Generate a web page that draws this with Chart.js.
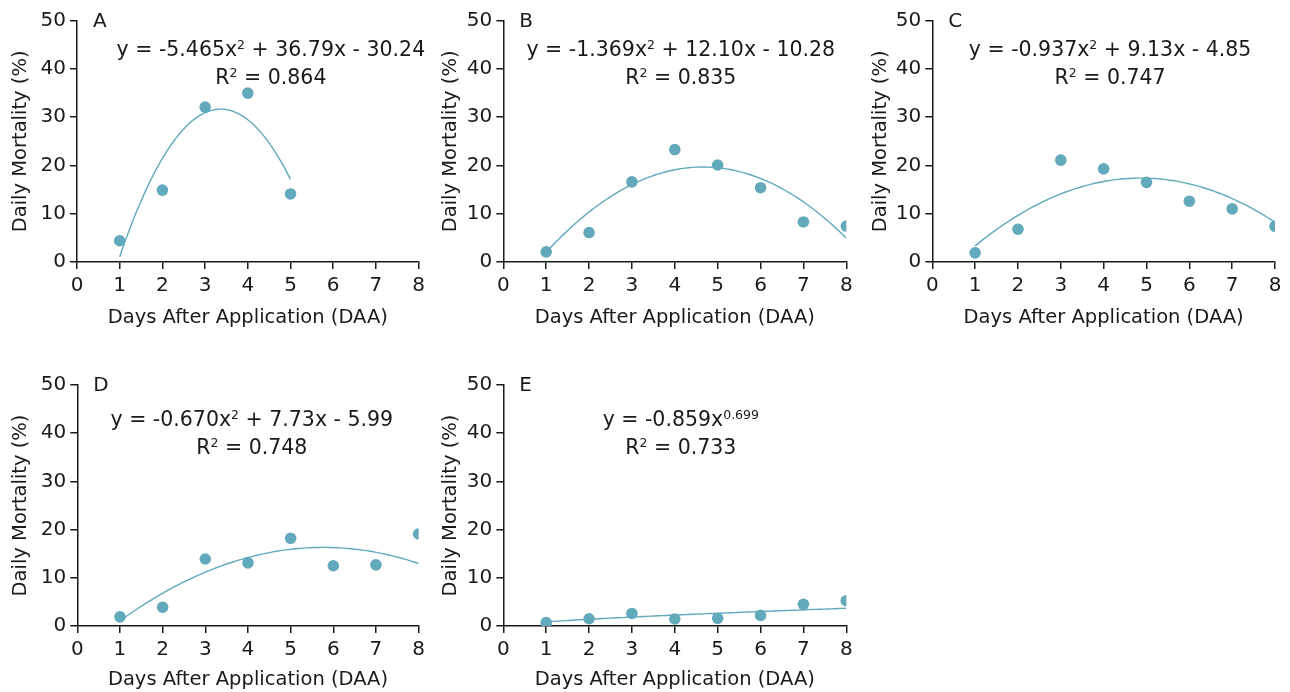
<!DOCTYPE html>
<html>
<head>
<meta charset="utf-8">
<script src="https://cdn.jsdelivr.net/npm/chart.js@4.4.0/dist/chart.umd.min.js"></script>
<style>
  body { margin: 0; background: #fff; width: 1290px; height: 692px; overflow: hidden; position: relative; }
  canvas { position: absolute; }
</style>
</head>
<body>
<canvas id="chartA"></canvas>
<canvas id="chartB"></canvas>
<canvas id="chartC"></canvas>
<canvas id="chartD"></canvas>
<canvas id="chartE"></canvas>
<script>
// Data
const daysA = [1, 2, 3, 4, 5];
const days = [1, 2, 3, 4, 5, 6, 7, 8];
const mortalityA = [4.4, 14.9, 32.1, 35.0, 14.1];
const mortalityB = [2.1, 6.1, 16.6, 23.3, 20.1, 15.4, 8.3, 7.45];
const mortalityC = [1.9, 6.8, 21.1, 19.3, 16.5, 12.6, 11.0, 7.4];
const mortalityD = [1.9, 3.9, 13.9, 13.1, 18.2, 12.5, 12.7, 19.1];
const mortalityE = [0.7, 1.5, 2.6, 1.45, 1.6, 2.2, 4.5, 5.25];

// trendline coefficients [x^2, x, 1] as drawn (B's printed equation does not match its drawn curve)
const fitA = [-5.465, 36.79, -30.24];
const fitB = [-1.32, 12.30, -8.97];
const fitC = [-0.937, 9.13, -4.85];
const fitD = [-0.670, 7.73, -5.99];
// power trendline [a, b] for y = a * x^b
const fitE = [0.859, 0.699];

const xTicks = [0, 1, 2, 3, 4, 5, 6, 7, 8];
const yTicks = [0, 10, 20, 30, 40, 50];

// equation text: even parts normal, odd parts superscript
const equationA = ['y = -5.465x', '2', ' + 36.79x - 30.24'];
const equationB = ['y = -1.369x', '2', ' + 12.10x - 10.28'];
const equationC = ['y = -0.937x', '2', ' + 9.13x - 4.85'];
const equationD = ['y = -0.670x', '2', ' + 7.73x - 5.99'];
const equationE = ['y = -0.859x', '0.699'];
const rSquared = ['0.864', '0.835', '0.747', '0.748', '0.733'];
const panelLetters = ['A', 'B', 'C', 'D', 'E'];

const teal = '#62a9bc';
const ink = '#1a1a1a';
const fontFamily = '"DejaVu Sans", sans-serif';

function quadCurve(coef) {
    return x => coef[0] * x * x + coef[1] * x + coef[2];
}

function powerCurve(coef) {
    return x => coef[0] * Math.pow(x, coef[1]);
}

// trendline drawn over the span of the measured days
function trendPoints(xs, fn) {
    const pts = [];
    const x0 = xs[0], x1 = xs[xs.length - 1];
    for (let i = 0; i <= 80; i++) {
        const x = x0 + (x1 - x0) * i / 80;
        pts.push({ x: x, y: fn(x) });
    }
    return pts;
}

function drawRich(ctx, parts, cx, baseline) {
    const big = '20.5px ' + fontFamily, small = '12.5px ' + fontFamily;
    let total = 0;
    parts.forEach((p, i) => { ctx.font = i % 2 ? small : big; total += ctx.measureText(p).width; });
    let x = cx - total / 2;
    parts.forEach((p, i) => {
        ctx.font = i % 2 ? small : big;
        ctx.fillText(p, x, i % 2 ? baseline - 7 : baseline);
        x += ctx.measureText(p).width;
    });
}

const labelPlugin = {
    id: 'panelText',
    afterDraw(chart, args, opts) {
        const ctx = chart.ctx, area = chart.chartArea;
        ctx.save();
        ctx.fillStyle = ink;
        ctx.textAlign = 'left';
        ctx.textBaseline = 'middle';
        ctx.font = '20px ' + fontFamily;
        ctx.fillText(opts.letter, area.left + 16, area.top + 1);
        ctx.textBaseline = 'alphabetic';
        const cx = chart.scales.x.getPixelForValue(opts.textX);
        drawRich(ctx, opts.equation, cx, area.top + opts.eqOffset);
        drawRich(ctx, ['R', '2', ' = ' + opts.r2], cx, area.top + opts.eqOffset + 28.5);
        ctx.restore();
    }
};

function makeChart(id, layout, xs, ys, fitFn, letter, equation, r2) {
    const canvas = document.getElementById(id);
    canvas.width = layout.w;
    canvas.height = layout.h;
    canvas.style.left = layout.left + 'px';
    canvas.style.top = layout.top + 'px';
    const points = xs.map((x, i) => ({ x: x, y: ys[i] }));
    new Chart(canvas.getContext('2d'), {
        type: 'scatter',
        data: {
            datasets: [{
                data: points,
                backgroundColor: teal,
                borderColor: teal,
                pointRadius: 5.8,
                pointHoverRadius: 5.8,
                borderWidth: 0
            }, {
                data: trendPoints(xs, fitFn),
                showLine: true,
                borderColor: teal,
                borderWidth: 1.4,
                pointRadius: 0,
                tension: 0
            }]
        },
        options: {
            responsive: false,
            animation: false,
            devicePixelRatio: 1,
            layout: { padding: { top: layout.padTop, right: layout.padRight, left: 0, bottom: 0 } },
            plugins: {
                legend: { display: false },
                tooltip: { enabled: false },
                panelText: { letter: letter, equation: equation, r2: r2, textX: layout.textX, eqOffset: layout.eqOffset }
            },
            scales: {
                x: {
                    type: 'linear', min: 0, max: 8,
                    afterBuildTicks: s => { s.ticks = xTicks.map(v => ({ value: v })); },
                    afterFit: s => { s.height = layout.xAxisH; },
                    ticks: { color: ink, font: { size: 20, family: fontFamily }, padding: 5, maxRotation: 0 },
                    grid: { drawOnChartArea: false, drawTicks: true, tickLength: 7, color: ink, lineWidth: 1.5 },
                    border: { display: true, color: ink, width: 1.5 },
                    title: { display: true, text: 'Days After Application (DAA)', color: ink,
                             font: { size: 19.5, family: fontFamily }, padding: { top: 0, bottom: layout.titlePad } }
                },
                y: {
                    type: 'linear', min: 0, max: 50,
                    afterBuildTicks: s => { s.ticks = yTicks.map(v => ({ value: v })); },
                    afterFit: s => { s.width = layout.yAxisW; },
                    ticks: { color: ink, font: { size: 20, family: fontFamily }, padding: 4 },
                    grid: { drawOnChartArea: false, drawTicks: true, tickLength: 7, color: ink, lineWidth: 1.5 },
                    border: { display: true, color: ink, width: 1.5 },
                    title: { display: true, text: 'Daily Mortality (%)', color: ink,
                             font: { size: 19.5, family: fontFamily }, padding: { top: 9, bottom: 0 } }
                }
            }
        },
        plugins: [labelPlugin]
    });
}

const topRow = { top: 0, h: 345, w: 430, padTop: 20.7, xAxisH: 83, titlePad: 15, eqOffset: 35 };
const bottomRow = { top: 360, h: 332, w: 430, padTop: 25, xAxisH: 66, titlePad: 0, eqOffset: 40.5 };

makeChart('chartA', Object.assign({}, topRow, { left: 0, yAxisW: 77, padRight: 9.3, textX: 4.54 }),
    daysA, mortalityA, quadCurve(fitA), panelLetters[0], equationA, rSquared[0]);
makeChart('chartB', Object.assign({}, topRow, { left: 430, yAxisW: 73.3, padRight: 13.7, textX: 4.14 }),
    days, mortalityB, quadCurve(fitB), panelLetters[1], equationB, rSquared[1]);
makeChart('chartC', Object.assign({}, topRow, { left: 860, yAxisW: 72.3, padRight: 15, textX: 4.15 }),
    days, mortalityC, quadCurve(fitC), panelLetters[2], equationC, rSquared[2]);
makeChart('chartD', Object.assign({}, bottomRow, { left: 0, yAxisW: 77.3, padRight: 9.3, textX: 4.09 }),
    days, mortalityD, quadCurve(fitD), panelLetters[3], equationD, rSquared[3]);
makeChart('chartE', Object.assign({}, bottomRow, { left: 430, yAxisW: 73.3, padRight: 13.7, textX: 4.14 }),
    days, mortalityE, powerCurve(fitE), panelLetters[4], equationE, rSquared[4]);
</script>
</body>
</html>
